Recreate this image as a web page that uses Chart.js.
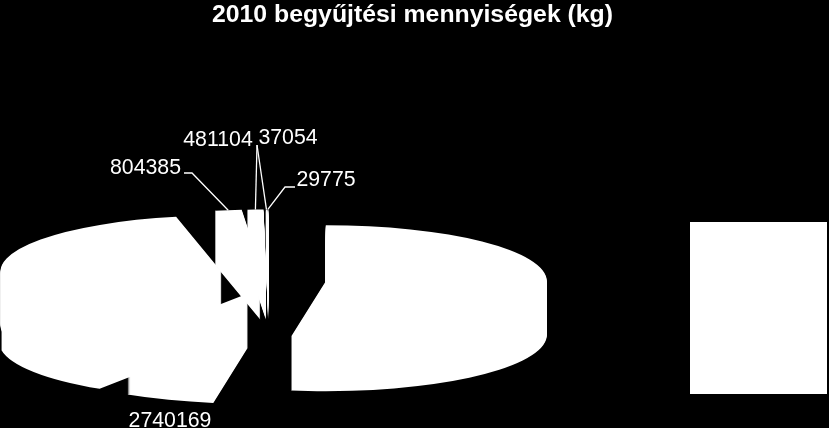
<!DOCTYPE html>
<html><head><meta charset="utf-8">
<style>html,body{margin:0;padding:0;background:#000;overflow:hidden}canvas{display:block}</style>
<script src="https://cdn.jsdelivr.net/npm/chart.js@4"></script>
</head><body><canvas id="c" width="829" height="428"></canvas>
<script>
// the three large slices carry no visible label, so they are estimated from their angles.
const categories = ['A','B','C','D','E','F','G','H'];
const values = [21580000, 2740169, 5590000, 9840000, 804385, 481104, 37054, 29775];
const visibleLabels = [false, true, false, false, true, true, true, true];
const titleText = '2010 begyűjtési mennyiségek (kg)';

const FONT = '"Liberation Sans", Arial, sans-serif';
const view = {cx: 268.5, cy: 280, rx: 221, ry: 56, depth: 54, explode: 0.26};
const labelLayout = {
  1: {x: 170, y: 421},
  4: {x: 145.5, y: 168, pts: [[184,173],[192,173]]},
  5: {x: 218, y: 140, pts: [[257,145]]},
  6: {x: 288, y: 138, pts: [[257,145]]},
  7: {x: 326, y: 180, pts: [[295,187],[285,187]]}
};
const legendBox = {x: 690, y: 222, w: 137, h: 172};
const midAngle = a => (a.startAngle + a.endAngle) / 2;

const pie3d = {
  id: 'pie3d',
  beforeDatasetsDraw(chart) {
    const ctx = chart.ctx;
    const arcs = chart.getDatasetMeta(0).data;
    for (let d = view.depth; d >= 0; d--) {
      arcs.forEach(a => {
        const m = midAngle(a);
        const sx = view.cx + Math.cos(m) * view.explode * view.rx;
        const sy = view.cy + Math.sin(m) * view.explode * view.ry + d;
        ctx.save();
        ctx.translate(sx, sy);
        ctx.scale(view.rx / a.outerRadius, view.ry / a.outerRadius);
        ctx.translate(-a.x, -a.y);
        a.draw(ctx);
        ctx.restore();
      });
    }
    return false;
  },
  afterDraw(chart) {
    const ctx = chart.ctx;
    const arcs = chart.getDatasetMeta(0).data;
    ctx.save();
    ctx.fillStyle = '#fff';
    ctx.fillRect(legendBox.x, legendBox.y, legendBox.w, legendBox.h);
    ctx.font = '21.3px ' + FONT;
    ctx.textAlign = 'center';
    ctx.textBaseline = 'middle';
    ctx.strokeStyle = '#fff';
    ctx.lineWidth = 1.3;
    values.forEach((v, i) => {
      if (!visibleLabels[i]) return;
      const l = labelLayout[i];
      ctx.fillText(String(v), l.x, l.y);
      if (!l.pts) return;
      const m = midAngle(arcs[i]);
      const k = 1 + view.explode;
      const ax = view.cx + Math.cos(m) * k * view.rx;
      const ay = view.cy + Math.sin(m) * k * view.ry;
      ctx.beginPath();
      ctx.moveTo(l.pts[0][0], l.pts[0][1]);
      l.pts.slice(1).forEach(p => ctx.lineTo(p[0], p[1]));
      ctx.lineTo(ax, ay);
      ctx.stroke();
    });
    ctx.restore();
  }
};

new Chart(document.getElementById('c'), {
  type: 'pie',
  data: {labels: categories, datasets: [{
    data: values,
    backgroundColor: '#fff',
    borderWidth: 0
  }]},
  options: {
    responsive: false,
    animation: false,
    layout: {padding: {right: 4}},
    plugins: {
      legend: {display: false},
      tooltip: {enabled: false},
      title: {display: true, text: titleText, color: '#fff',
        font: {family: FONT, size: 24.8, weight: 'bold'}, padding: {top: 0, bottom: 0}}
    }
  },
  plugins: [pie3d]
});
</script></body></html>
